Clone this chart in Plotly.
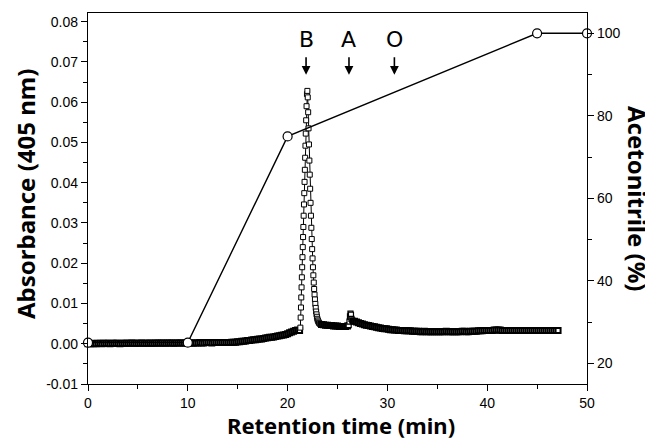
import numpy as np
import plotly.graph_objects as go

# ---------------- data ----------------
# Absorbance trace, baseline before the main peak (0.2 min sampling)
t_base1 = np.round(np.arange(0.0, 21.21, 0.2), 2)
a_base1 = [
    0.0000, 0.0000, 0.0001, 0.0000, 0.0000, 0.0001, 0.0001, 0.0000, 0.0001, 0.0001,
    0.0001, 0.0000, 0.0001, 0.0001, 0.0001, 0.0001, 0.0000, 0.0001, 0.0001, 0.0001,
    0.0001, 0.0001, 0.0002, 0.0001, 0.0001, 0.0001, 0.0001, 0.0002, 0.0001, 0.0001,
    0.0001, 0.0002, 0.0001, 0.0001, 0.0002, 0.0002, 0.0001, 0.0002, 0.0002, 0.0001,
    0.0002, 0.0002, 0.0002, 0.0001, 0.0002, 0.0002, 0.0002, 0.0002, 0.0002, 0.0002,
    0.0002, 0.0002, 0.0002, 0.0002, 0.0002, 0.0002, 0.0003, 0.0002, 0.0002, 0.0003,
    0.0003, 0.0003, 0.0002, 0.0003, 0.0003, 0.0003, 0.0003, 0.0003, 0.0003, 0.0003,
    0.0003, 0.0003, 0.0004, 0.0004, 0.0004, 0.0005, 0.0005, 0.0006, 0.0006, 0.0007,
    0.0008, 0.0008, 0.0009, 0.0010, 0.0010, 0.0011, 0.0012, 0.0012, 0.0013, 0.0014,
    0.0015, 0.0016, 0.0016, 0.0017, 0.0018, 0.0019, 0.0020, 0.0021, 0.0022, 0.0023,
    0.0025, 0.0027, 0.0029, 0.0031, 0.0033, 0.0034, 0.0033,
]

# Main peak (B)
t_peakB = [21.28, 21.31, 21.34, 21.37, 21.40, 21.43, 21.46, 21.49, 21.52, 21.55,
           21.58, 21.61, 21.64, 21.67, 21.70, 21.73, 21.76, 21.79, 21.82, 21.86,
           21.90, 21.94, 21.98, 22.02, 22.06, 22.10, 22.14, 22.18, 22.22, 22.26,
           22.30, 22.34, 22.38, 22.42, 22.46, 22.50, 22.54, 22.58, 22.62, 22.66,
           22.70, 22.74, 22.78, 22.82, 22.86, 22.90, 22.94, 22.98, 23.03, 23.08,
           23.14, 23.22, 23.30]
a_peakB = [0.0040, 0.0065, 0.0090, 0.0115, 0.0140, 0.0165, 0.0190, 0.0215, 0.0240, 0.0265,
           0.0290, 0.0318, 0.0346, 0.0374, 0.0402, 0.0432, 0.0462, 0.0492, 0.0522, 0.0555,
           0.0590, 0.0620, 0.0628, 0.0612, 0.0575, 0.0535, 0.0495, 0.0455, 0.0420, 0.0385,
           0.0350, 0.0318, 0.0288, 0.0260, 0.0235, 0.0212, 0.0190, 0.0170, 0.0152, 0.0136,
           0.0122, 0.0110, 0.0099, 0.0089, 0.0080, 0.0073, 0.0067, 0.0062, 0.0058, 0.0055,
           0.0052, 0.0050, 0.0048]

# Baseline between peaks
t_base2 = np.round(np.arange(23.4, 26.01, 0.2), 2)
a_base2 = [0.0048, 0.0047, 0.0046, 0.0046, 0.0045, 0.0045, 0.0044, 0.0044, 0.0044, 0.0043,
           0.0043, 0.0043, 0.0043, 0.0044]

# Small peak (A)
t_peakA = [26.12, 26.20, 26.25, 26.30, 26.35, 26.40, 26.48, 26.56]
a_peakA = [0.0046, 0.0055, 0.0068, 0.0075, 0.0072, 0.0062, 0.0058, 0.0056]

# Tail baseline
t_base3 = np.round(np.arange(26.7, 47.11, 0.2), 2)
a_base3 = [
    0.0056, 0.0054, 0.0052, 0.0050, 0.0049, 0.0047, 0.0046, 0.0045, 0.0044, 0.0043,
    0.0042, 0.0041, 0.0040, 0.0039, 0.0038, 0.0037, 0.0037, 0.0036, 0.0035, 0.0035,
    0.0034, 0.0034, 0.0033, 0.0033, 0.0033, 0.0032, 0.0032, 0.0032, 0.0032, 0.0031,
    0.0031, 0.0031, 0.0031, 0.0030, 0.0030, 0.0031, 0.0030, 0.0030, 0.0030, 0.0030,
    0.0030, 0.0030, 0.0030, 0.0030, 0.0030, 0.0030, 0.0031, 0.0030, 0.0030, 0.0030,
    0.0030, 0.0030, 0.0030, 0.0030, 0.0031, 0.0031, 0.0030, 0.0030, 0.0031, 0.0031,
    0.0031, 0.0031, 0.0032, 0.0032, 0.0032, 0.0033, 0.0033, 0.0033, 0.0033, 0.0033,
    0.0034, 0.0034, 0.0034, 0.0034, 0.0033, 0.0033, 0.0033, 0.0033, 0.0033, 0.0033,
    0.0033, 0.0033, 0.0033, 0.0033, 0.0033, 0.0033, 0.0033, 0.0033, 0.0033, 0.0033,
    0.0033, 0.0033, 0.0033, 0.0033, 0.0033, 0.0033, 0.0033, 0.0033, 0.0033, 0.0033,
    0.0033, 0.0033, 0.0033,
]

# Acetonitrile gradient
grad_time = [0, 10, 20, 45, 50]
grad_pct = [25, 25, 75, 100, 100]

# Peak labels
label_text = ["B", "A", "O"]
label_time = [21.85, 26.15, 30.7]

x_ticks = [0, 10, 20, 30, 40, 50]
y_ticks = [-0.01, 0.00, 0.01, 0.02, 0.03, 0.04, 0.05, 0.06, 0.07, 0.08]
y2_ticks = [20, 40, 60, 80, 100]

assert len(t_base1) == len(a_base1)
assert len(t_peakB) == len(a_peakB)
assert len(t_base2) == len(a_base2)
assert len(t_peakA) == len(a_peakA)
assert len(t_base3) == len(a_base3)

t_abs = list(t_base1) + t_peakB + list(t_base2) + t_peakA + list(t_base3)
a_abs = a_base1 + a_peakB + a_base2 + a_peakA + a_base3

# marker edge: heavier on dense baseline, thin on the peak flanks
edge_w = ([2.0] * len(a_base1) + [1.0] * len(a_peakB) + [2.0] * len(a_base2)
          + [1.2] * len(a_peakA) + [2.0] * len(a_base3))

# ---------------- figure ----------------
fig = go.Figure()

fig.add_trace(go.Scatter(
    x=t_abs, y=a_abs, mode="lines+markers",
    line=dict(color="black", width=1),
    marker=dict(symbol="square", size=5, color="white",
                line=dict(color="black", width=edge_w)),
    cliponaxis=False, showlegend=False, yaxis="y",
))

fig.add_trace(go.Scatter(
    x=grad_time, y=grad_pct, mode="lines+markers",
    line=dict(color="black", width=1.4),
    marker=dict(symbol="circle", size=9, color="white",
                line=dict(color="black", width=1.2)),
    cliponaxis=False, showlegend=False, yaxis="y2",
))

tickfont = dict(family="Liberation Sans, Arial", size=14, color="black")

# page has an 8px body margin; layout numbers below are in page pixels
OFF = 8
PAGE_W, PAGE_H = 653, 442
PL, PR, PT, PB = 88, 587, 13, 384          # plot box in page pixels
W, H = PAGE_W - OFF, PAGE_H - OFF
L, T = PL - OFF, PT - OFF
R, B = W - (PR - OFF), H - (PB - OFF)
plot_w = W - L - R
plot_h = H - T - B

fig.update_layout(
    width=W, height=H,
    margin=dict(l=L, r=R, t=T, b=B, autoexpand=False),
    paper_bgcolor="white", plot_bgcolor="white",
    showlegend=False,
    xaxis=dict(
        range=[0, 50], tickvals=x_ticks, ticktext=[str(v) for v in x_ticks],
        showline=True, linecolor="black", linewidth=1.3, mirror=True,
        ticks="outside", ticklen=6, tickwidth=1.3, tickcolor="black",
        minor=dict(ticks="outside", dtick=5, ticklen=4, tickwidth=1.3, tickcolor="black"),
        showgrid=False, zeroline=False, tickfont=tickfont, automargin=False,
    ),
    yaxis=dict(
        range=[-0.01, 0.08215], tickvals=y_ticks,
        ticktext=[f"{v:.2f}" for v in y_ticks],
        showline=True, linecolor="black", linewidth=1.3,
        ticks="outside", ticklen=6, tickwidth=1.3, tickcolor="black",
        minor=dict(ticks="outside", dtick=0.005, tick0=0, ticklen=4, tickwidth=1.3, tickcolor="black"),
        showgrid=False, zeroline=False, tickfont=tickfont, automargin=False,
    ),
    yaxis2=dict(
        range=[14.98, 104.92], overlaying="y", side="right",
        tickvals=y2_ticks, ticktext=[str(v) for v in y2_ticks],
        showline=True, linecolor="black", linewidth=1.3,
        ticks="outside", ticklen=6, tickwidth=1.3, tickcolor="black",
        minor=dict(ticks="outside", dtick=10, tick0=0, ticklen=4, tickwidth=1.3, tickcolor="black"),
        showgrid=False, zeroline=False, tickfont=tickfont, automargin=False,
    ),
)


def px_x(px):
    return (px - PL) / (PR - PL)


def px_y(py):
    return (PB - py) / (PB - PT)


annotations = []
for txt, tx in zip(label_text, label_time):
    annotations.append(dict(
        x=tx, y=0.0755, xref="x", yref="y", text=txt, showarrow=False,
        font=dict(family="DejaVu Sans", size=22, color="black"),
        xanchor="center", yanchor="middle",
    ))
    annotations.append(dict(
        x=tx, y=0.0668, xref="x", yref="y", text="", showarrow=True,
        ax=0, ay=-19, arrowhead=2, arrowsize=1.1, arrowwidth=1.6,
        arrowcolor="black", standoff=0,
    ))

title_font_x = dict(family="Noto Sans", size=22, color="black")
title_font_y = dict(family="Noto Sans", size=24, color="black")
annotations.append(dict(
    x=px_x(341), y=px_y(425), xref="paper", yref="paper",
    text="<b>Retention time (min)</b>", showarrow=False,
    font=title_font_x, xanchor="center", yanchor="middle",
))
annotations.append(dict(
    x=px_x(26), y=px_y(194), xref="paper", yref="paper",
    text="<b>Absorbance (405 nm)</b>", showarrow=False, textangle=-90,
    font=title_font_y, xanchor="center", yanchor="middle",
))
annotations.append(dict(
    x=px_x(638), y=px_y(198), xref="paper", yref="paper",
    text="<b>Acetonitrile (%)</b>", showarrow=False, textangle=90,
    font=title_font_y, xanchor="center", yanchor="middle",
))
fig.update_layout(annotations=annotations)

fig.write_html("out.html")
